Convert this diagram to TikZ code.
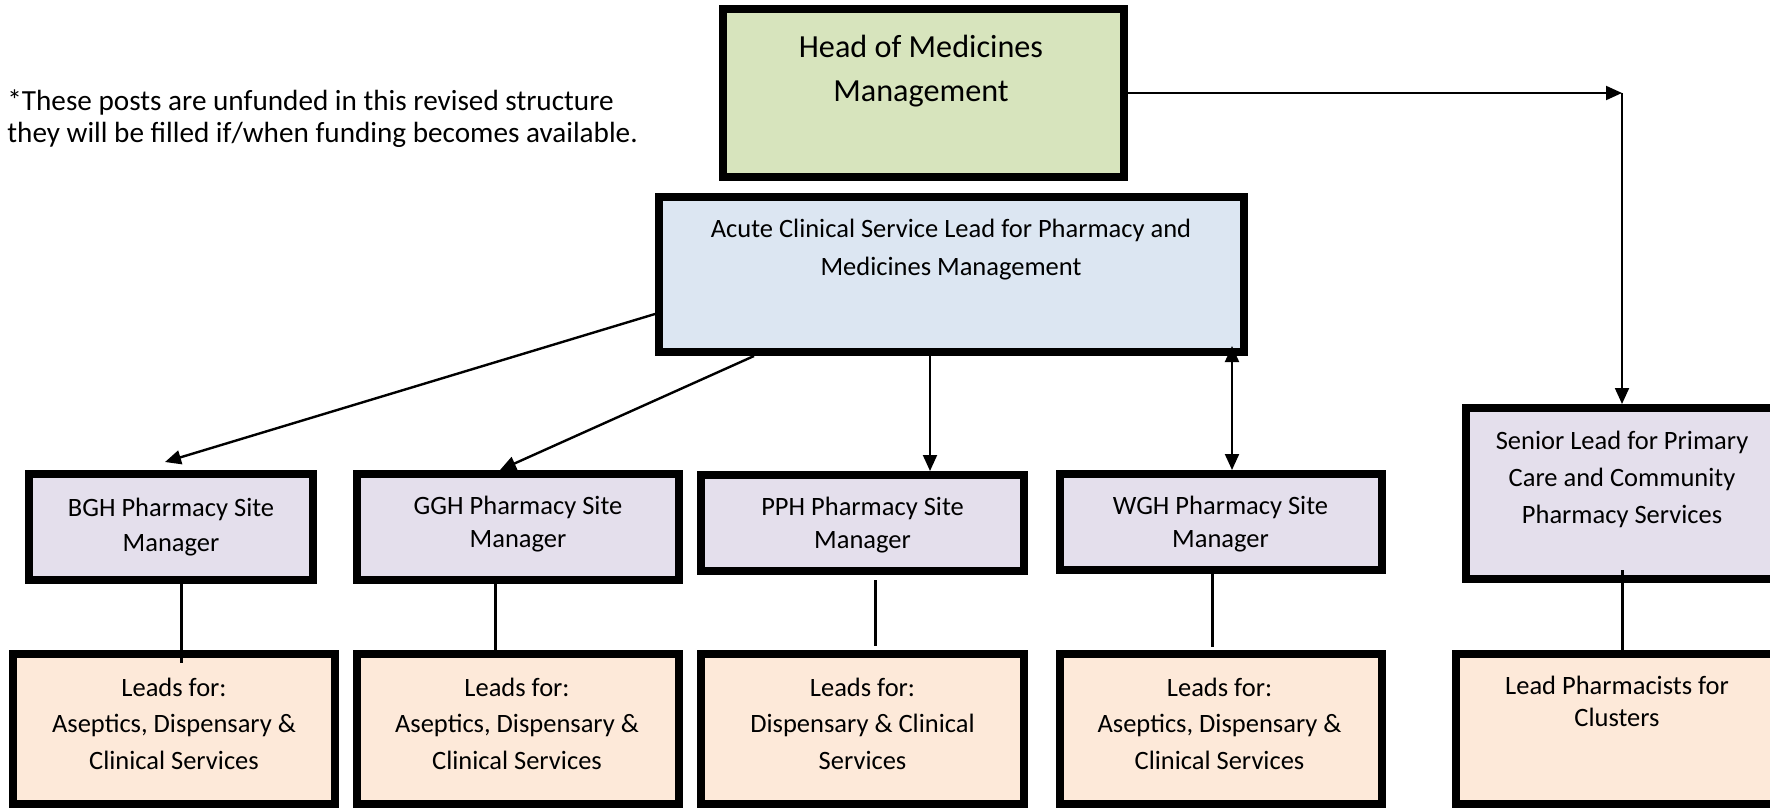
\documentclass[tikz,border=0pt]{standalone}
\usepackage{fontspec}
\setmainfont{Carlito}
\usetikzlibrary{arrows.meta,calc}
\definecolor{headfill}{HTML}{D7E4BD}
\definecolor{acutefill}{HTML}{DCE6F2}
\definecolor{mgrfill}{HTML}{E4DFEC}
\definecolor{leadfill}{HTML}{FDE9D9}
\tikzset{
  box/.style={draw=black, line width=4pt, inner sep=0pt},
  txt/.style={align=center, inner sep=0pt, font=\fontsize{13.25}{17.5}\selectfont},
  arr/.style={-{Triangle[length=8pt,width=7pt]}, line width=1pt},
  darr/.style={{Triangle[length=8pt,width=7pt]}-{Triangle[length=8pt,width=7pt]}, line width=1pt},
  slant/.style={-{Triangle[length=8pt,width=7pt]}, line width=1.2pt},
  plain/.style={line width=1.5pt}
}
\begin{document}
\begin{tikzpicture}[x=0.5pt,y=-0.5pt]
\useasboundingbox (0,0) rectangle (1770,808);
\clip (0,0) rectangle (1770,808);

% boxes
\node[box, fill=headfill, minimum width=200.5pt, minimum height=84pt] (head) at (923.5,93) {};
\node[box, fill=acutefill, minimum width=292.5pt, minimum height=77.5pt] (acute) at (951.5,274.5) {};
\node[box, fill=mgrfill, minimum width=142pt, minimum height=53pt] (bgh) at (171,527) {};
\node[box, fill=mgrfill, minimum width=161pt, minimum height=53pt] (ggh) at (518,527) {};
\node[box, fill=mgrfill, minimum width=161.5pt, minimum height=48pt] (pph) at (862.5,523) {};
\node[box, fill=mgrfill, minimum width=161pt, minimum height=48pt] (wgh) at (1221,522) {};
\node[box, fill=mgrfill, minimum width=167pt, minimum height=85.5pt] (senior) at (1633,493.5) {};
\node[box, fill=leadfill, minimum width=161pt, minimum height=75pt] (bghL) at (174,729) {};
\node[box, fill=leadfill, minimum width=161pt, minimum height=75pt] (gghL) at (518,729) {};
\node[box, fill=leadfill, minimum width=161.5pt, minimum height=75pt] (pphL) at (862.5,729) {};
\node[box, fill=leadfill, minimum width=161pt, minimum height=75pt] (wghL) at (1221,729) {};
\node[box, fill=leadfill, minimum width=172pt, minimum height=75pt] (clusL) at (1628,729) {};

% texts
\node[txt, font=\fontsize{16.1}{22}\selectfont] (headT) at (921,71) {Head of Medicines\\Management};
\node[txt, font=\fontsize{13.25}{19}\selectfont] (acuteT) at (951,250) {Acute Clinical Service Lead for Pharmacy and\\Medicines Management};
\node[txt] (bghT) at (171,527) {BGH Pharmacy Site\\Manager};
\node[txt, font=\fontsize{13.25}{16.5}\selectfont] (gghT) at (518,524) {GGH Pharmacy Site\\Manager};
\node[txt, font=\fontsize{13.25}{16.5}\selectfont] (pphT) at (862.5,525) {PPH Pharmacy Site\\Manager};
\node[txt, font=\fontsize{13.25}{16.5}\selectfont] (wghT) at (1220.5,524) {WGH Pharmacy Site\\Manager};
\node[txt, font=\fontsize{13.25}{18.5}\selectfont] (seniorT) at (1622,479) {Senior Lead for Primary\\Care and Community\\Pharmacy Services};
\node[txt, font=\fontsize{13.25}{18.25}\selectfont] (bghLT) at (174,723.5) {Leads for:\\Aseptics, Dispensary \&\\Clinical Services};
\node[txt, font=\fontsize{13.25}{18.25}\selectfont] (gghLT) at (517,723.5) {Leads for:\\Aseptics, Dispensary \&\\Clinical Services};
\node[txt, font=\fontsize{13.25}{18.25}\selectfont] (pphLT) at (862.5,723.5) {Leads for:\\Dispensary \& Clinical\\Services};
\node[txt, font=\fontsize{13.25}{18.25}\selectfont] (wghLT) at (1219.5,723.5) {Leads for:\\Aseptics, Dispensary \&\\Clinical Services};
\node[txt, font=\fontsize{13.25}{16}\selectfont] (clusLT) at (1617,701) {Lead Pharmacists for\\Clusters};
\node[align=left, inner sep=0pt, anchor=west, font=\fontsize{14.6}{16}\selectfont] (note) at (7,118.5) {*These posts are unfunded in this revised structure\\they will be filled if/when funding becomes available.};

% connectors
\coordinate (corner) at (1622,93);
\draw[arr] (head.east) -- (corner);
\draw[arr] (corner) -- (corner |- senior.north);
\draw[slant] ($(acute.west)+(0,39.5)$) -- ($(bgh.north)+(-6,-8)$);
\draw[slant] ($(acute.south west)+(99,0)$) -- ($(ggh.north)+(-18,0)$);
\draw[arr] ($(acute.south west)+(275,0)$) coordinate (ps) -- (ps |- pph.north);
\draw[darr] ($(acute.south east)+(-16,-10)$) coordinate (ws) -- (ws |- wgh.north);
\draw[plain] ($(bgh.south)+(10,0)$) -- ($(bghL.north)+(7,13)$);
\draw[plain] ($(ggh.south)+(-22.5,0)$) -- ($(gghL.north)+(-22.5,0)$);
\draw[plain] ($(pph.south)+(12.5,5)$) -- ($(pphL.north)+(12.5,-4)$);
\draw[plain] ($(wgh.south)+(-9,0)$) -- ($(wghL.north)+(-9,-3)$);
\draw[plain] ($(senior.south)+(-11,-13)$) -- ($(clusL.north)+(-6,0)$);
\end{tikzpicture}
\end{document}
